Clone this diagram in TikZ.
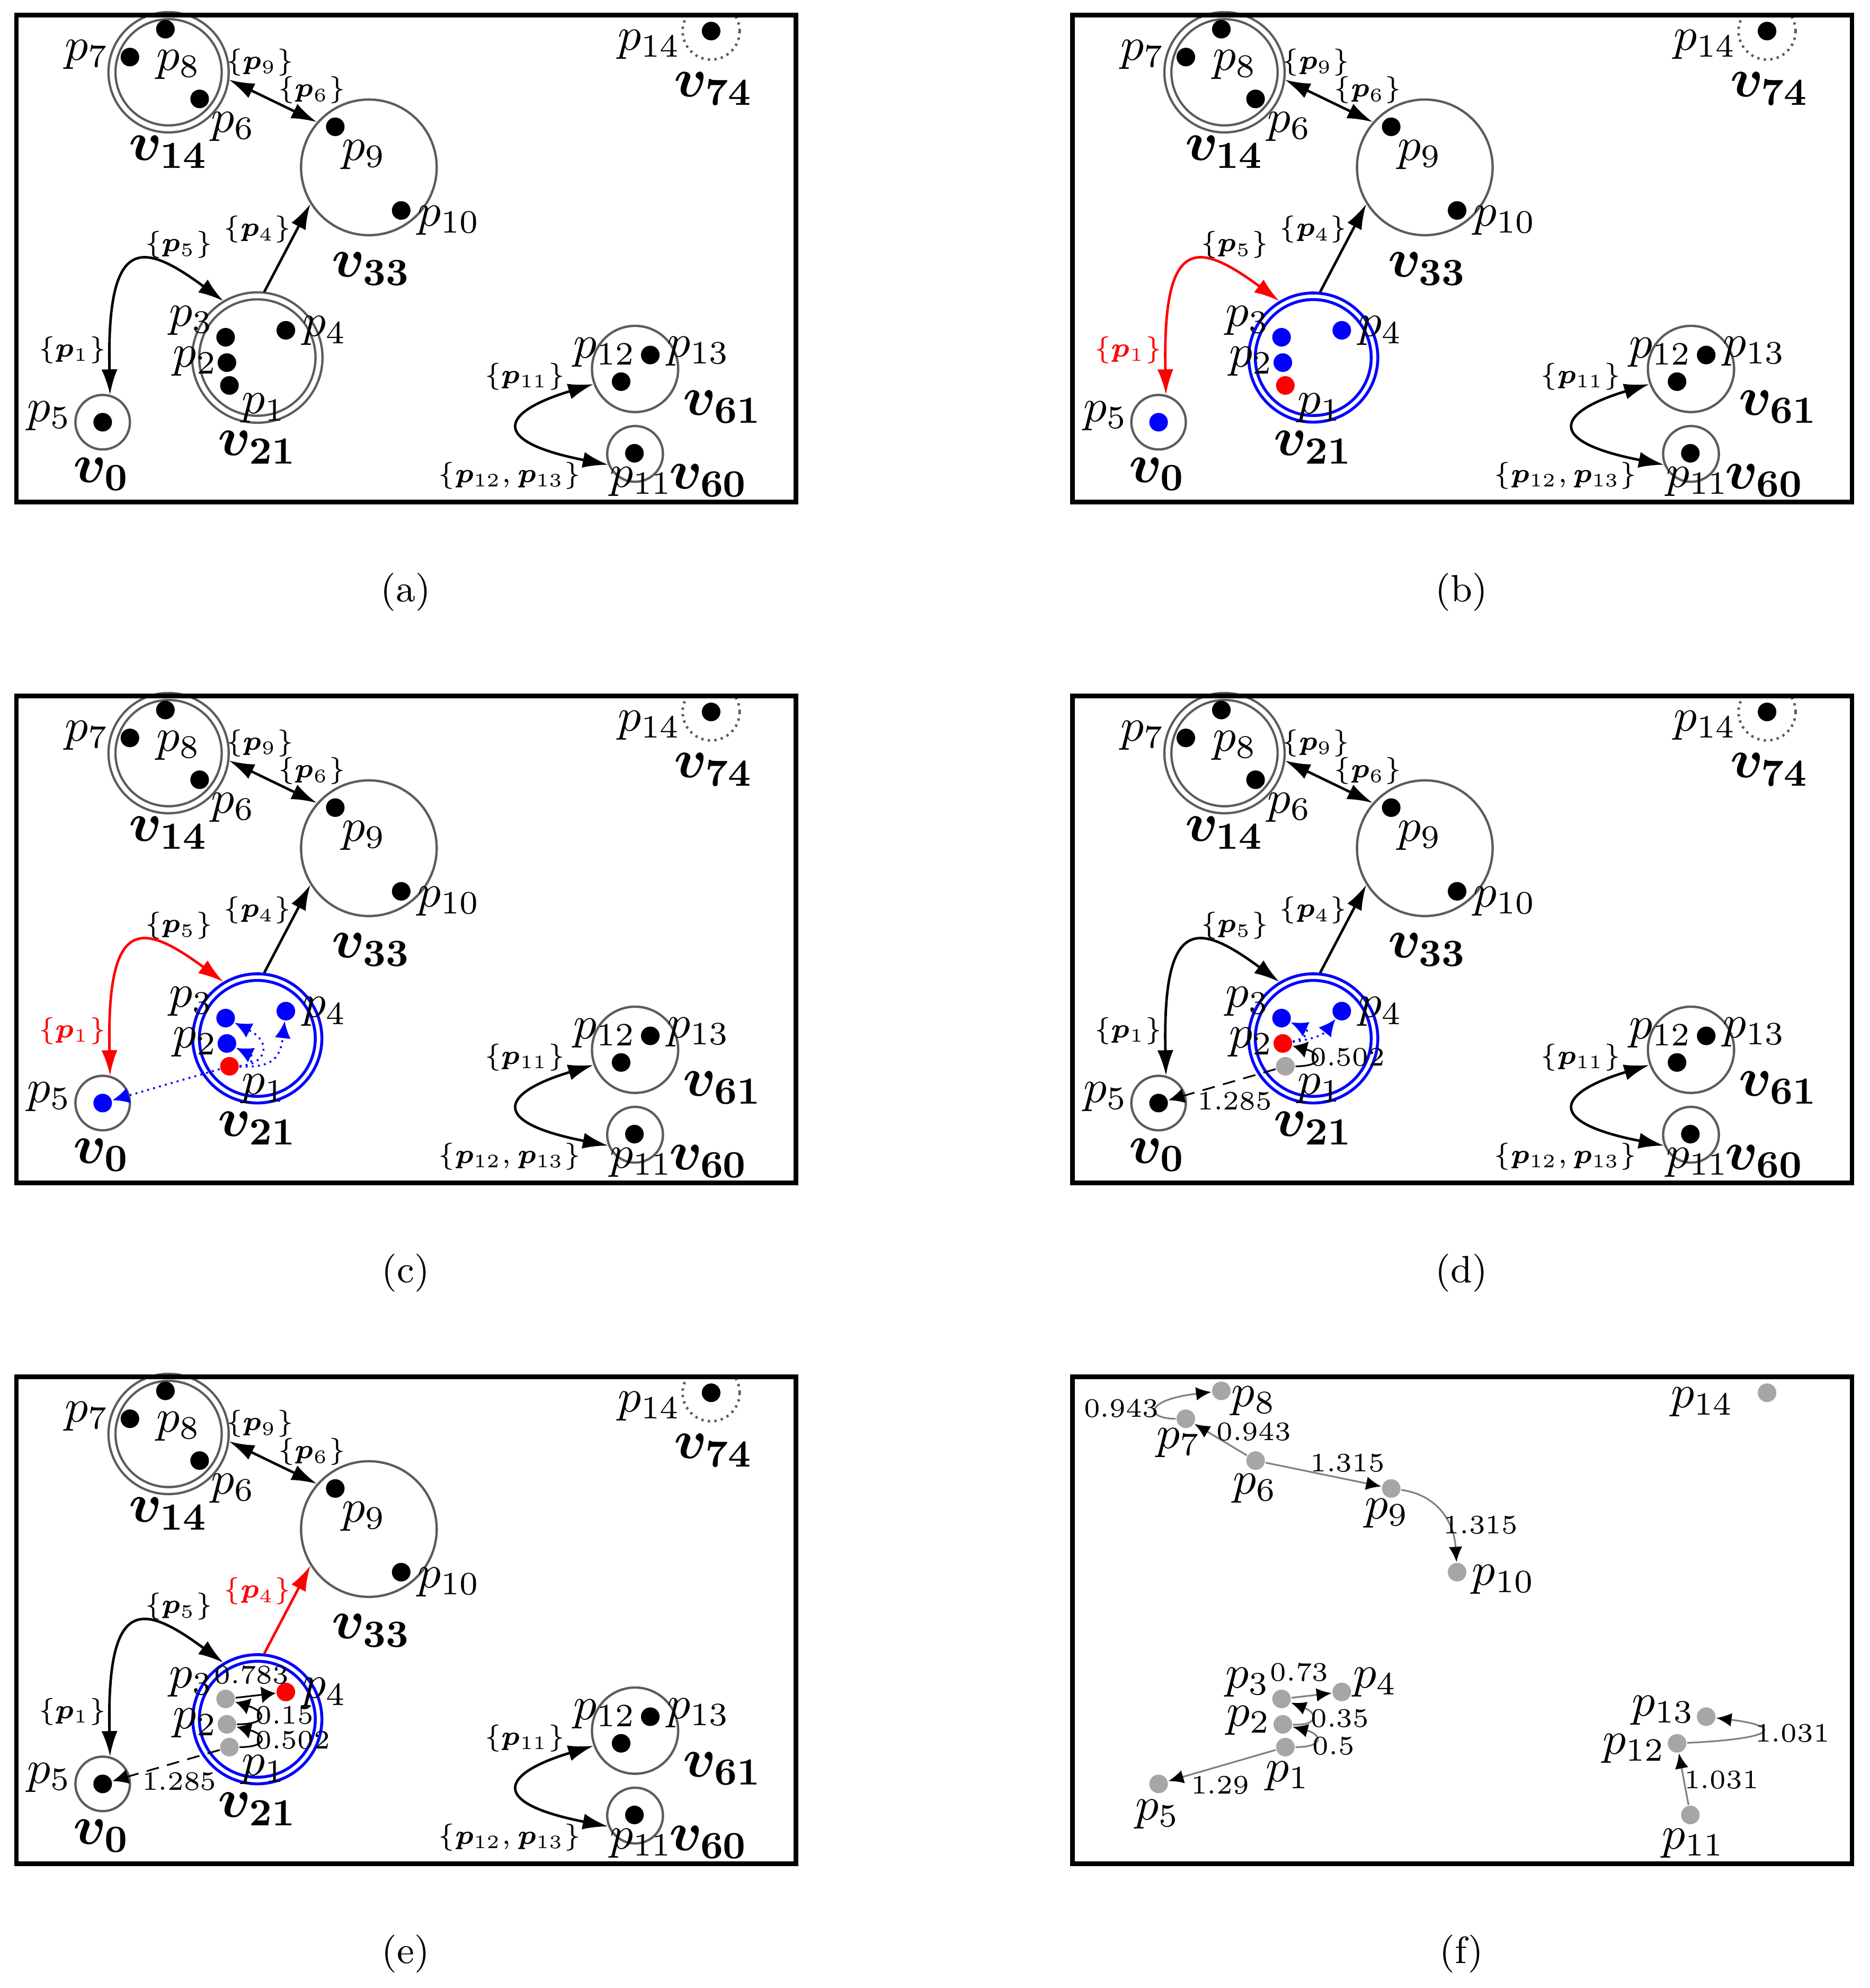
\RequirePackage{fix-cm}
\documentclass[tikz,border=0pt]{standalone}
\usepackage{amsmath,amssymb,bm}
\usepackage{tikz}
\usetikzlibrary{arrows.meta}

\definecolor{ringgray}{gray}{0.36}
\definecolor{ptgray}{gray}{0.65}
\definecolor{linegray}{gray}{0.5}

\newcommand{\basegraph}[1]{%
  \node[#1] (v21) at (203,282) {};
  \node[dblset, minimum size=26.8pt] (v14) at (133,57) {};
  \node[vset, minimum size=32.1pt] (v33) at (291,132) {};
  \node[vset, minimum size=12.9pt] (v0) at (81,333) {};
  \node[vset, minimum size=20.4pt] (v61) at (501,291) {};
  \node[vset, minimum size=13.2pt] (v60) at (501,358) {};
  \begin{scope}
    \clip (13,12) rectangle (628,396);
    \node[vset, densely dotted, line width=0.6pt, minimum size=13.5pt] (v74) at (561,24.5) {};
  \end{scope}
  \foreach \n/\x/\y in {6/157.5/78, 7/102.5/45, 8/130.5/23, 9/264.5/100,
      10/316.5/166, 11/500.5/357.5, 12/490/301, 13/513/280, 14/561/24.5}
    \node[pnt] (p\n) at (\x,\y) {};
  \foreach \n/\x/\y in {7/68.5/43, 8/141/51, 6/184/100, 9/287/122, 10/354/174,
      14/512/35, 3/151/253, 2/154/285, 1/208/322, 4/256/261, 5/39/328,
      12/477/278, 13/551/277, 11/506/380}
    \node[plab] (l\n) at (\x,\y) {$p_{\n}$};
  \foreach \n/\x/\y in {14/133/120, 33/293/212, 74/563/70, 21/203/353,
      0/80/374, 61/570/321, 60/559/379}
    \node[vlab] (lv\n) at (\x,\y) {$\bm{v}_{\mathbf{\n}}$};
  \node[elab] (e9) at (205,49) {$\{\bm{p}_{9}\}$};
  \node[elab] (e6) at (246,71) {$\{\bm{p}_{6}\}$};
  \node[elab] (e5) at (141,193) {$\{\bm{p}_{5}\}$};
  \node[elab] (e11) at (414,297) {$\{\bm{p}_{11}\}$};
  \node[elab] (e12) at (402,375) {$\{\bm{p}_{12},\bm{p}_{13}\}$};
  \draw[bigarr, <->] (v14.-7) -- (v33.139);
  \draw[bigarr, <->] (v61.200) .. controls (395,325) and (385,348) .. (v60.202);
  \draw[line width=1.1pt] (13,12) rectangle (628,396);
}

\newcommand{\firstpts}[5]{%
  \node[pnt, fill=#1] (p1) at (181,304) {};
  \node[pnt, fill=#2] (p2) at (179,286) {};
  \node[pnt, fill=#3] (p3) at (178,266) {};
  \node[pnt, fill=#4] (p4) at (225.5,260.5) {};
  \node[pnt, fill=#5] (p5) at (81,333) {};
}

\begin{document}
\begin{tikzpicture}[x=0.3pt, y=-0.3pt,
    vset/.style={circle, draw=ringgray, line width=0.55pt, inner sep=0pt},
    dblset/.style={vset, double, double distance=1.1pt, outer sep=1pt},
    blueset/.style={circle, draw=blue, line width=0.7pt, double, double distance=0.85pt,
      outer sep=1.1pt, inner sep=0pt, minimum size=29pt},
    pnt/.style={circle, fill=black, inner sep=0pt, minimum size=4.4pt},
    plab/.style={inner sep=0pt, font=\fontsize{11}{13}\selectfont},
    vlab/.style={inner sep=0pt, font=\fontsize{13}{15}\selectfont},
    elab/.style={inner sep=0pt, font=\fontsize{6.4}{7}\selectfont},
    wlab/.style={inner sep=0pt, font=\fontsize{6.3}{7}\selectfont},
    captext/.style={font=\fontsize{9}{11}\selectfont},
    bigarr/.style={line width=0.6pt, >={Latex[length=6pt, width=3.8pt]}},
    looparr/.style={line width=0.4pt, ->, >={Latex[length=3.4pt, width=4pt]}},
    dasharr/.style={line width=0.4pt, densely dashed, ->, >={Latex[length=3.8pt, width=3.6pt]}},
    dotarr/.style={blue, line width=0.45pt, densely dotted, ->, >={Latex[length=4pt, width=3.8pt]}},
    grarr/.style={draw=linegray, line width=0.4pt, ->, >={Latex[length=3.6pt, width=3.2pt, color=black]}}]
  \useasboundingbox (0,0) rectangle (1475,1568);

  \begin{scope}[name prefix=a-]
    \basegraph{dblset, minimum size=29.2pt}
    \firstpts{black}{black}{black}{black}{black}
    \node[elab] (e1) at (57,276) {$\{\bm{p}_{1}\}$};
    \node[elab] (e4) at (203,181) {$\{\bm{p}_{4}\}$};
    \draw[bigarr, <->] (v0.75) .. controls (84,185) and (112,190) .. (v21.121);
    \draw[bigarr, ->] (v21.84) -- (v33.212);
  \end{scope}

  \begin{scope}[shift={(833,0)}, name prefix=b-]
    \basegraph{blueset}
    \firstpts{red}{blue}{blue}{blue}{blue}
    \node[elab, red] (e1) at (57,276) {$\{\bm{p}_{1}\}$};
    \node[elab] (e4) at (203,181) {$\{\bm{p}_{4}\}$};
    \draw[bigarr, red, <->] (v0.75) .. controls (84,185) and (112,190) .. (v21.121);
    \draw[bigarr, ->] (v21.84) -- (v33.212);
  \end{scope}

  \begin{scope}[shift={(0,537)}, name prefix=c-]
    \basegraph{blueset}
    \firstpts{red}{blue}{blue}{blue}{blue}
    \node[elab, red] (e1) at (57,276) {$\{\bm{p}_{1}\}$};
    \node[elab] (e4) at (203,181) {$\{\bm{p}_{4}\}$};
    \draw[bigarr, red, <->] (v0.75) .. controls (84,185) and (112,190) .. (v21.121);
    \draw[bigarr, ->] (v21.84) -- (v33.212);
    \draw[dotarr] (p1) .. controls (200,304) and (200,296) .. (p2);
    \draw[dotarr] (p1) .. controls (210,303) and (215,285) .. (p3);
    \draw[dotarr] (p1) .. controls (212,305) and (221,300) .. (p4);
    \draw[dotarr] (p1) -- (p5);
  \end{scope}

  \begin{scope}[shift={(833,537)}, name prefix=d-]
    \basegraph{blueset}
    \firstpts{ptgray}{red}{blue}{blue}{black}
    \node[elab] (e1) at (57,276) {$\{\bm{p}_{1}\}$};
    \node[elab] (e4) at (203,181) {$\{\bm{p}_{4}\}$};
    \draw[bigarr, <->] (v0.75) .. controls (84,185) and (112,190) .. (v21.121);
    \draw[bigarr, ->] (v21.84) -- (v33.212);
    \draw[dotarr] (p2) .. controls (198,282) and (200,276) .. (p3);
    \draw[dotarr] (p2) .. controls (200,283) and (210,280) .. (p4);
    \draw[looparr] (p1) .. controls (212,304) and (210,294) .. (p2);
    \draw[dasharr] (p1) -- (p5);
    \node[wlab] (w12) at (230,297) {0.502};
    \node[wlab] (w15) at (141,331.5) {1.285};
  \end{scope}

  \begin{scope}[shift={(0,1074)}, name prefix=e-]
    \basegraph{blueset}
    \firstpts{ptgray}{ptgray}{ptgray}{red}{black}
    \node[elab] (e1) at (57,276) {$\{\bm{p}_{1}\}$};
    \node[elab, red] (e4) at (203,181) {$\{\bm{p}_{4}\}$};
    \draw[bigarr, <->] (v0.75) .. controls (84,185) and (112,190) .. (v21.121);
    \draw[bigarr, red, ->] (v21.84) -- (v33.212);
    \draw[looparr] (p3) -- (p4);
    \draw[looparr] (p2) .. controls (212,286) and (210,276) .. (p3);
    \draw[looparr] (p1) .. controls (212,304) and (210,294) .. (p2);
    \draw[dasharr] (p1) -- (p5);
    \node[wlab] (w34) at (198.5,247) {0.783};
    \node[wlab] (w23) at (224.5,279) {0.15};
    \node[wlab] (w12) at (231,298.5) {0.502};
    \node[wlab] (w15) at (141.4,331) {1.285};
  \end{scope}

  \begin{scope}[shift={(833,1074)}, name prefix=f-]
    \foreach \n/\x/\y in {1/181/304, 2/179/286, 3/178/266, 4/225.5/260.5, 5/81/333,
        6/157.5/78, 7/102.5/45, 8/130.5/23, 9/264.5/100, 10/316.5/166,
        11/500.5/357.5, 12/490/301, 13/513/280, 14/561/24.5}
      \node[pnt, fill=ptgray] (p\n) at (\x,\y) {};
    \foreach \n/\x/\y in {8/156/31, 7/97/64, 6/157/100, 9/261/119.5, 10/353/172,
        14/510/32, 3/151/253, 4/252/253, 2/152/283, 1/183/327, 5/80/357,
        13/479/275, 12/456/305, 11/503/380}
      \node[plab] (l\n) at (\x,\y) {$p_{\n}$};
    \draw[grarr] (p7) .. controls (70,45) and (70,30) .. (p8);
    \draw[grarr] (p6) -- (p7);
    \draw[grarr] (p6) -- (p9);
    \draw[grarr] (p9) .. controls (300,105) and (314,125) .. (p10);
    \draw[grarr] (p3) -- (p4);
    \draw[grarr] (p2) .. controls (208,287) and (206,277) .. (p3);
    \draw[grarr] (p1) .. controls (212,304) and (210,294) .. (p2);
    \draw[grarr] (p1) -- (p5);
    \draw[grarr] (p11) -- (p12);
    \draw[grarr] (p12) .. controls (575,297) and (570,287) .. (p13);
    \node[wlab] (w78) at (51.5,37) {0.943};
    \node[wlab] (w67) at (156,55) {0.943};
    \node[wlab] (w69) at (230,80) {1.315};
    \node[wlab] (w910) at (335,129) {1.315};
    \node[wlab] (w34) at (192,245) {0.73};
    \node[wlab] (w23) at (224,281.5) {0.35};
    \node[wlab] (w12) at (219,303) {0.5};
    \node[wlab] (w15) at (129.5,334) {1.29};
    \node[wlab] (w1112) at (525,330) {1.031};
    \node[wlab] (w1213) at (581,293) {1.031};
    \draw[line width=1.1pt] (13,12) rectangle (628,396);
  \end{scope}

  \foreach \t/\x/\y in {a/320/467, b/1153/467, c/320/1004, d/1153/1004, e/320/1541, f/1153/1541}
    \node[captext] (cap\t) at (\x,\y) {(\t)};
\end{tikzpicture}
\end{document}
